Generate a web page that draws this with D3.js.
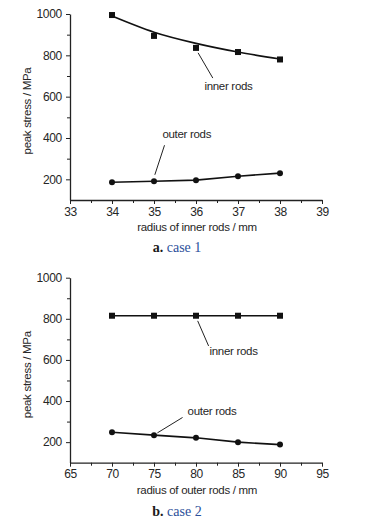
<!DOCTYPE html>
<html>
<head>
<meta charset="utf-8">
<script src="https://cdn.jsdelivr.net/npm/d3@7"></script>
<style>
  body { margin: 0; background: #fff; }
  svg { display: block; }
  text { font-family: "Liberation Sans Narrow", "Arial Narrow", "Liberation Sans", sans-serif; fill: #262626; letter-spacing: -0.3px; }
  .caption text { font-family: "Liberation Serif", "DejaVu Serif", serif; letter-spacing: 0; }
</style>
</head>
<body>
<div id="root"></div>
<script>
const innerRadius = [34, 35, 36, 37, 38];
const case1Inner = [995, 894, 836, 816, 780];
const case1InnerFit = [990, 912, 858, 816, 782];
const case1Outer = [186, 191, 196, 215, 230];

const outerRadius = [70, 75, 80, 85, 90];
const case2Inner = [815, 815, 815, 815, 815];
const case2Outer = [248, 234, 221, 200, 188];

const yTicks = [200, 400, 600, 800, 1000];
const xTicks1 = [33, 34, 35, 36, 37, 38, 39];
const xTicks2 = [65, 70, 75, 80, 85, 90, 95];

const width = 371;
const height = 520;
const fs = "11.5px";

var svg = d3.select("#root").append("svg")
  .attr("width", width)
  .attr("height", height);

function drawPanel(opts) {
  var g = svg.append("g");

  var x = d3.scaleLinear().domain(opts.xDomain).range([70, 322]);
  var y = d3.scaleLinear().domain([100, 1000]).range([opts.bottom, opts.top]);

  // minor ticks
  var step = opts.xTicks[1] - opts.xTicks[0];
  var xMinor = d3.range(opts.xTicks.length - 1).map(i => opts.xTicks[i] + step / 2);
  g.append("g")
    .attr("transform", "translate(0," + opts.bottom + ")")
    .call(d3.axisBottom(x).tickValues(xMinor).tickSize(3).tickFormat(""))
    .call(a => a.select(".domain").remove());
  g.append("g")
    .attr("transform", "translate(70,0)")
    .call(d3.axisLeft(y).tickValues([300, 500, 700, 900]).tickSize(3).tickFormat(""))
    .call(a => a.select(".domain").remove());

  var xAxis = g.append("g")
    .attr("transform", "translate(0," + opts.bottom + ")")
    .call(d3.axisBottom(x).tickValues(opts.xTicks).tickFormat(d3.format("d"))
      .tickSize(4).tickPadding(3).tickSizeOuter(0));
  xAxis.selectAll("text").style("font-size", "12px");

  var yAxis = g.append("g")
    .attr("transform", "translate(70,0)")
    .call(d3.axisLeft(y).tickValues(yTicks).tickFormat(d3.format("d"))
      .tickSize(4).tickPadding(4).tickSizeOuter(0));
  yAxis.selectAll("text").style("font-size", "12px");

  g.selectAll(".domain").attr("stroke", "#222").attr("stroke-width", 1.3);
  g.selectAll(".tick line").attr("stroke", "#222");

  g.append("text")
    .attr("x", 197)
    .attr("y", opts.bottom + 31)
    .attr("text-anchor", "middle")
    .style("font-size", fs)
    .text(opts.xLabel);

  g.append("text")
    .attr("transform", "translate(31," + (opts.top + 97) + ") rotate(-90)")
    .attr("text-anchor", "middle")
    .style("font-size", fs)
    .text("peak stress / MPa");

  var line = d3.line()
    .x((d, i) => x(opts.xs[i]))
    .y(d => y(d));

  g.append("path")
    .datum(opts.innerLine)
    .attr("fill", "none")
    .attr("stroke", "#111")
    .attr("stroke-width", 1.6)
    .attr("d", line.curve(opts.curve));

  g.append("path")
    .datum(opts.outer)
    .attr("fill", "none")
    .attr("stroke", "#111")
    .attr("stroke-width", 1.6)
    .attr("d", d3.line().x((d, i) => x(opts.xs[i])).y(d => y(d)));

  g.selectAll(".sq")
    .data(opts.inner)
    .enter()
    .append("rect")
    .attr("x", (d, i) => x(opts.xs[i]) - 3)
    .attr("y", d => y(d) - 3)
    .attr("width", 6)
    .attr("height", 6)
    .attr("fill", "#111");

  g.selectAll(".dot")
    .data(opts.outer)
    .enter()
    .append("circle")
    .attr("cx", (d, i) => x(opts.xs[i]))
    .attr("cy", d => y(d))
    .attr("r", 3)
    .attr("fill", "#111");

  // annotations
  var ai = opts.innerNote;
  g.append("line")
    .attr("x1", x(ai.px)).attr("y1", y(ai.py))
    .attr("x2", x(ai.lx)).attr("y2", y(ai.ly))
    .attr("stroke", "#222").attr("stroke-width", 1);
  g.append("text")
    .attr("x", x(ai.tx)).attr("y", y(ai.ty))
    .style("font-size", fs)
    .text("inner rods");

  var ao = opts.outerNote;
  g.append("line")
    .attr("x1", x(ao.px)).attr("y1", y(ao.py))
    .attr("x2", x(ao.lx)).attr("y2", y(ao.ly))
    .attr("stroke", "#222").attr("stroke-width", 1);
  g.append("text")
    .attr("x", x(ao.tx)).attr("y", y(ao.ty))
    .style("font-size", fs)
    .text("outer rods");

  var cap = svg.append("g").attr("class", "caption");
  var t = cap.append("text")
    .attr("x", 177)
    .attr("y", opts.captionY)
    .attr("text-anchor", "middle")
    .style("font-size", "14px");
  t.append("tspan").attr("font-weight", "bold").style("fill", "#1a1a1a").text(opts.captionTag + "  ");
  t.append("tspan").style("fill", "#2b4f9a").text(opts.caption);
}

drawPanel({
  top: 14, bottom: 200,
  xDomain: [33, 39], xTicks: xTicks1, xs: innerRadius,
  inner: case1Inner, innerLine: case1InnerFit, outer: case1Outer,
  curve: d3.curveMonotoneX,
  xLabel: "radius of inner rods / mm",
  innerNote: { px: 36.05, py: 812, lx: 36.4, ly: 690, tx: 36.2, ty: 630 },
  outerNote: { px: 35.02, py: 222, lx: 35.25, ly: 365, tx: 35.2, ty: 400 },
  captionTag: "a.", caption: "case 1", captionY: 252
});

drawPanel({
  top: 277.7, bottom: 462.7,
  xDomain: [65, 95], xTicks: xTicks2, xs: outerRadius,
  inner: case2Inner, innerLine: case2Inner, outer: case2Outer,
  curve: d3.curveLinear,
  xLabel: "radius of outer rods / mm",
  innerNote: { px: 80.2, py: 790, lx: 81.5, ly: 668, tx: 81.6, ty: 625 },
  outerNote: { px: 75.4, py: 245, lx: 78.4, ly: 320, tx: 79, ty: 330 },
  captionTag: "b.", caption: "case 2", captionY: 516
});
</script>
</body>
</html>
